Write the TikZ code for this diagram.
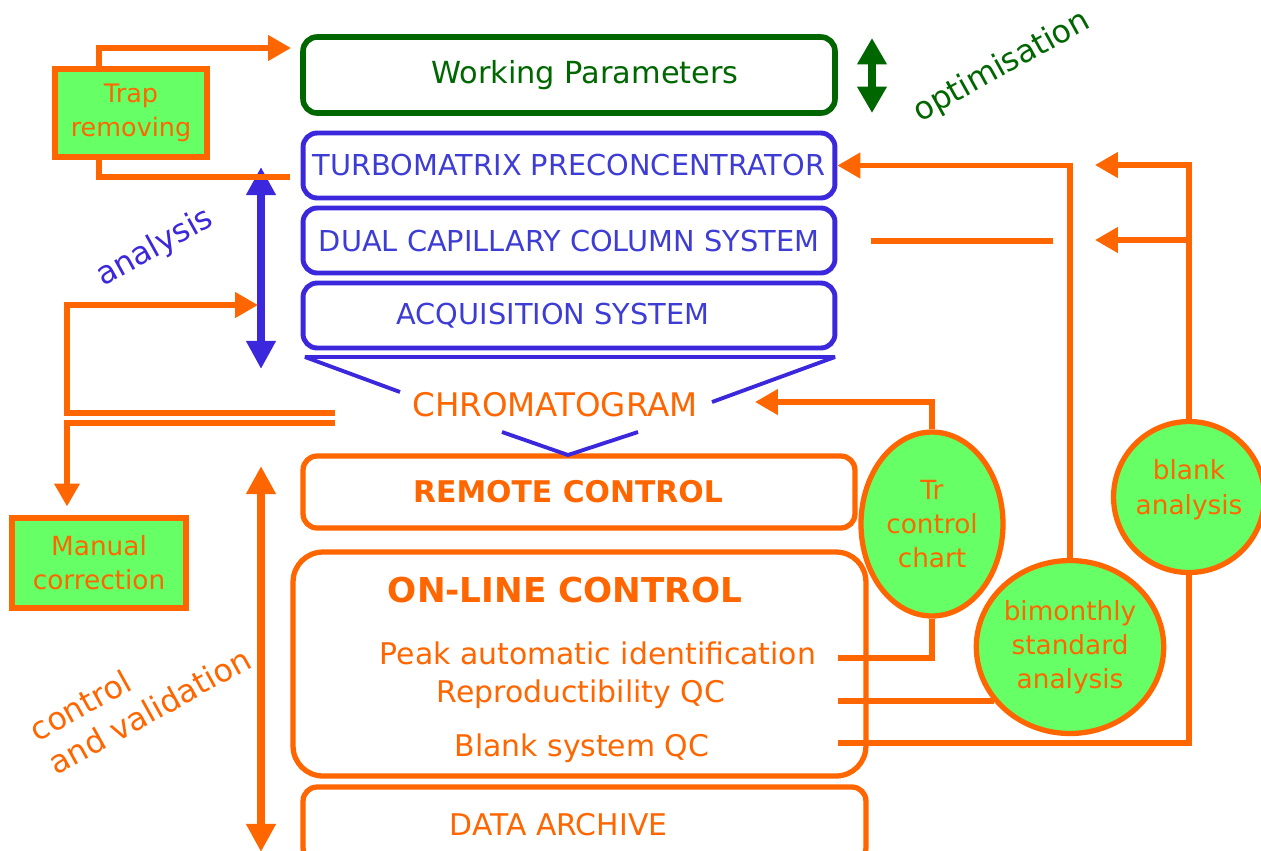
\documentclass[tikz,border=0pt]{standalone}
\usepackage{fontspec}
\setmainfont{DejaVu Sans}
\usetikzlibrary{arrows.meta,shapes.geometric,positioning,calc}
\definecolor{ctrlOrange}{HTML}{FF6600}
\definecolor{noteGreen}{HTML}{66FF66}
\definecolor{optGreen}{HTML}{006600}
\definecolor{anaBlue}{HTML}{3C28DC}
\definecolor{anaText}{HTML}{3D3DD6}

\begin{document}
\begin{tikzpicture}[x=0.02cm, y=-0.02cm,
      boxOpt/.style={rectangle, rounded corners=8pt, draw=optGreen, line width=3.2pt, minimum width=10.64cm, minimum height=1.52cm, text=optGreen, font=\fontsize{17.3}{20}\selectfont},
      boxAna/.style={rectangle, rounded corners=8pt, draw=anaBlue, line width=2.8pt, minimum width=10.64cm, minimum height=1.3cm, text=anaText, font=\fontsize{16.4}{19}\selectfont},
      boxCtrl/.style={rectangle, rounded corners=8pt, draw=ctrlOrange, line width=3pt, text=ctrlOrange, font=\bfseries\fontsize{17}{20}\selectfont},
      note/.style={rectangle, draw=ctrlOrange, fill=noteGreen, line width=3pt, text=ctrlOrange, align=center, font=\fontsize{15}{19.5}\selectfont},
      bubble/.style={ellipse, draw=ctrlOrange, fill=noteGreen, line width=3pt, text=ctrlOrange, align=center, inner sep=0pt, font=\fontsize{15}{19.5}\selectfont},
      item/.style={text=ctrlOrange, font=\fontsize{17}{20}\selectfont},
      tilted/.style={rotate=29, font=\fontsize{18}{22}\selectfont},
      flow/.style={-{Triangle[length=13pt, width=14pt]}, line width=3pt, draw=ctrlOrange},
      link/.style={line width=3pt, draw=ctrlOrange},
      funnel/.style={line width=2.2pt, draw=anaBlue, line join=bevel}
    ]
      \useasboundingbox (0,0) rectangle (1261,850);

      % main chain
      \node[boxOpt] (wp) at (569,75) {\hspace*{0.64cm}Working Parameters};
      \node[boxAna] (turbo) at (569,165.5) {TURBOMATRIX PRECONCENTRATOR};
      \node[boxAna] (dual) at (569,240.5) {DUAL CAPILLARY COLUMN SYSTEM};
      \node[boxAna] (acq) at (569,315.5) {ACQUISITION SYSTEM\hspace*{0.64cm}};
      \node[text=ctrlOrange, font=\fontsize{18.5}{21}\selectfont] (chrom) at (555,405) {CHROMATOGRAM};
      \node[boxCtrl, minimum width=11.04cm, minimum height=1.44cm] (remote) at (579,492) {REMOTE CONTROL\hspace*{0.44cm}};
      \node[boxCtrl, rounded corners=17pt, minimum width=11.46cm, minimum height=4.48cm] (online) at (579.5,664) {};
      \node[item, font=\bfseries\fontsize{19.5}{23}\selectfont] (onlineTitle) at (565,590) {ON-LINE CONTROL};
      \node[item] (peak) at (598,653) {Peak automatic identification};
      \node[item] (repro) at (581,694) {Reproductibility QC};
      \node[item] (blankQC) at (582,748) {Blank system QC};
      \node[boxCtrl, font=\fontsize{17}{20}\selectfont, minimum width=11.26cm, minimum height=1.5cm] (archive) at (584.5,824.5) {DATA ARCHIVE\hspace*{1.04cm}};

      % side notes
      \node[note, font=\fontsize{14.5}{19.5}\selectfont, minimum width=3.04cm, minimum height=1.76cm] (trap) at (131,113) {Trap\\removing};
      \node[note, minimum width=3.48cm, minimum height=1.8cm] (manual) at (99,563) {Manual\\correction};
      \node[bubble, minimum width=2.84cm, minimum height=3.68cm] (tr) at (932,524) {Tr\\control\\chart};
      \node[bubble, minimum width=3.74cm, minimum height=3.46cm] (bim) at (1070,647) {bimonthly\\standard\\analysis};
      \node[bubble, minimum width=2.84cm, minimum height=3.02cm] (blank) at (1189,497) {blank\\analysis\\[-8pt]};

      \node[tilted, text=anaBlue] (anaLabel) at (155,248) {analysis};
      \node[tilted, text=optGreen] (optLabel) at (1002,67) {optimisation};
      \node[tilted, text=ctrlOrange, align=left] (valLabel) at (140,694) {control\\and validation};

      \coordinate (wpIn) at (291,48);
      \coordinate (turboStub) at (290,177);
      \coordinate (anaTop) at (261,167);
      \coordinate (anaBot) at (261,369);
      \coordinate (optTop) at (872,38);
      \coordinate (optBot) at (872,113);
      \coordinate (valTop) at (261,466);
      \coordinate (valBot) at (261,852);
      \coordinate (fnA) at (305,357);
      \coordinate (fnB) at (835,357);
      \coordinate (fnC) at (400,392);
      \coordinate (fnD) at (712,402);
      \coordinate (fnE) at (502,432);
      \coordinate (fnF) at (638,432);
      \coordinate (fnTip) at (568,455);
      \coordinate (chromUp) at (335,413);
      \coordinate (chromDown) at (335,423);
      \coordinate (acqBack) at (258,305);
      \coordinate (chromIn) at (755,402);
      \coordinate (peakOut) at (838,658);
      \coordinate (reproOut) at (838,701);
      \coordinate (blankOut) at (838,743);
      \coordinate (blankTopIn) at (1095,165);
      \coordinate (blankMidIn) at (1095,240);
      \coordinate (dualOutA) at (871,241);
      \coordinate (dualOutB) at (1053,241);

      % stage arrows
      \draw[{Triangle[length=16pt, width=16pt]}-{Triangle[length=16pt, width=16pt]}, line width=5pt, draw=anaBlue] (anaTop) -- (anaBot);
      \draw[{Triangle[length=15pt, width=16pt]}-{Triangle[length=15pt, width=16pt]}, line width=4pt, draw=optGreen] (optTop) -- (optBot);
      \draw[{Triangle[length=16pt, width=16pt]}-{Triangle[length=16pt, width=16pt]}, line width=4.5pt, draw=ctrlOrange] (valTop) -- (valBot);

      \draw[funnel] (fnC) -- (fnA) -- (fnB) -- (fnD);
      \draw[funnel] (fnE) -- (fnTip) -- (fnF);

      \draw[flow] ([xshift=-0.64cm]trap.north) |- (wpIn);
      \draw[link] ([xshift=-0.64cm]trap.south) |- (turboStub);
      \draw[flow] (chromUp) -- ++(-268,0) |- (acqBack);
      \draw[flow] (chromDown) -| ([xshift=-0.64cm, yshift=0.18cm]manual.north);

      \draw[flow] (tr.north) |- (chromIn);
      \draw[link] (tr.south) |- (peakOut);
      \draw[link] (reproOut) -- (reproOut -| bim.216);
      \draw[flow] (bim.north) |- (turbo.east);
      \draw[flow] (blank.north) |- (blankTopIn);
      \draw[flow] (blank.north |- blankMidIn) -- (blankMidIn);
      \draw[link] (blank.south) |- (blankOut);
      \draw[link] (dualOutA) -- (dualOutB);
    \end{tikzpicture}
\end{document}
